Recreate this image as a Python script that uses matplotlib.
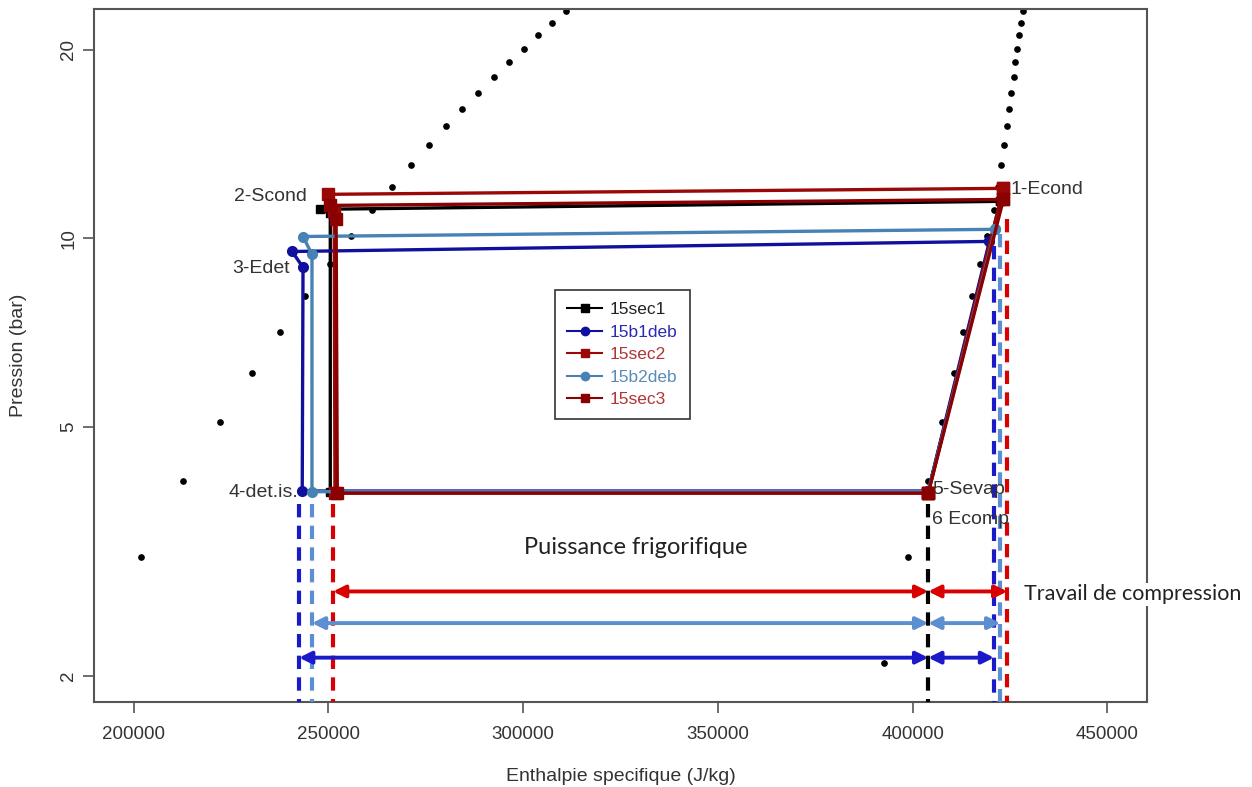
import matplotlib.pyplot as plt
from matplotlib.lines import Line2D
from matplotlib.ticker import NullLocator

# courbe de saturation : pression (bar), enthalpie liquide / vapeur (J/kg)
p_sat = [2.1, 3.1, 4.1, 5.1, 6.1, 7.1, 8.1, 9.1, 10.1, 11.1, 12.1, 13.1, 14.1, 15.1,
         16.1, 17.1, 18.1, 19.1, 20.1, 21.1, 22.1, 23.1]
h_liq = [188500, 201900, 212700, 222200, 230400, 237600, 244000, 250500, 255900, 261200,
         266400, 271300, 275900, 280300, 284400, 288500, 292600, 296400, 300300, 303900,
         307500, 311100]
h_vap = [392700, 398900, 404000, 407600, 410700, 413000, 415300, 417400, 419200, 421000,
         422000, 422800, 423500, 424300, 424800, 425300, 425900, 426400, 426900, 427400,
         427900, 428400]

# cycles : points 1-Econd, 2-Scond, 3-Edet, 4-det.is., 5-Sevap, 6 Ecomp
names = ["15sec1", "15b1deb", "15sec2", "15b2deb", "15sec3"]
h_sec1 = [422500, 247900, 250500, 250500, 404000, 404000]
p_sec1 = [11.46, 11.13, 10.96, 3.94, 3.94, 3.94]
h_b1deb = [419700, 240700, 243500, 243300, 404000, 404000]
p_b1deb = [9.89, 9.53, 8.99, 3.95, 3.95, 3.95]
h_sec2 = [423300, 250000, 251500, 251700, 404000, 404000]
p_sec2 = [12.02, 11.76, 11.04, 3.92, 3.92, 3.92]
h_b2deb = [421200, 243500, 245800, 245800, 404000, 404000]
p_b2deb = [10.34, 10.07, 9.43, 3.94, 3.94, 3.94]
h_sec3 = [423300, 250500, 252000, 252300, 404000, 404000]
p_sec3 = [11.54, 11.29, 10.72, 3.92, 3.92, 3.92]

# annotations : enthalpies entree detendeur / sortie evaporateur / sortie compresseur
h_det = [242500, 245800, 251200]
h_evap = 404000
h_comp = [420900, 422500, 424300]
p_comp_top = [9.71, 10.18, 10.72]
p_arrows = [2.14, 2.43, 2.73]
annot_colors = ["#1a1ac8", "#5b8fd2", "#d80000"]

plt.rcParams['font.family'] = ['Liberation Sans', 'DejaVu Sans']

fig = plt.figure(figsize=(12.52, 7.87), dpi=100)
ax = fig.add_axes([0.0751, 0.108, 0.841, 0.8806])
ax.set_yscale('log')

ax.plot(h_liq, p_sat, 'o', color='black', ms=3.8, zorder=1)
ax.plot(h_vap, p_sat, 'o', color='black', ms=3.8, zorder=1)

cycles = [(h_sec1, p_sec1), (h_b1deb, p_b1deb), (h_sec2, p_sec2), (h_b2deb, p_b2deb), (h_sec3, p_sec3)]
line_colors = ["black", "#10109c", "#9a0808", "#4682b4", "#8b0000"]
text_colors = ["#222222", "#2a2ab4", "#b03535", "#5a8ab8", "#b03535"]
markers = ["s", "o", "s", "o", "s"]
msizes = [6, 7, 9, 7, 9]

handles = []
for (h, p), col, mk, ms, name in zip(cycles, line_colors, markers, msizes, names):
    ax.plot(h + h[:1], p + p[:1], color=col, lw=2.4, marker=mk, ms=ms, zorder=2)
    handles.append(Line2D([], [], color=col, lw=1.5, marker=mk, ms=6, label=name))

# pointilles verticaux
for h, col in zip(h_det, annot_colors):
    ax.plot([h, h], [3.77, 1.818], color=col, lw=3, ls=(0, (3.2, 2)), zorder=3)
for h, ptop, col in zip(h_comp, p_comp_top, annot_colors):
    ax.plot([h, h], [ptop, 1.818], color=col, lw=3, ls=(0, (3.2, 2)), zorder=3)
ax.plot([h_evap, h_evap], [3.77, 1.818], color='black', lw=3, ls=(0, (3.2, 2)), zorder=3)

# fleches
for h0, h1, p, col in zip(h_det, h_comp, p_arrows, annot_colors):
    for a, b in [(h0, h_evap), (h_evap, h1)]:
        ax.annotate("", xy=(b, p), xytext=(a, p),
                    arrowprops=dict(arrowstyle='<|-|>', color=col, lw=2.8,
                                    mutation_scale=18, shrinkA=0, shrinkB=0), zorder=4)

lab = dict(fontsize=14, color='#333333')
ax.text(244500, 11.67, "2-Scond", ha='right', va='center', **lab)
ax.text(240200, 8.95, "3-Edet", ha='right', va='center', **lab)
ax.text(242300, 3.93, "4-det.is.", ha='right', va='center', **lab)
ax.text(425100, 11.97, "1-Econd", ha='left', va='center', **lab)
ax.text(405000, 3.97, "5-Sevap", ha='left', va='center', **lab)
ax.text(405000, 3.56, "6 Ecomp", ha='left', va='center', **lab)

ax.text(329000, 3.21, "Puissance frigorifique", ha='center', va='center',
        fontsize=17, family='Lato', color='#222222')
ax.text(428700, 2.70, "Travail de compression", ha='left', va='center',
        fontsize=15.5, family='Lato', color='#222222', clip_on=False,
        bbox=dict(facecolor='white', edgecolor='none', pad=1), zorder=6)

ax.set_xlim(189850, 460150)
ax.set_ylim(1.818, 23.25)
ax.set_xticks([200000, 250000, 300000, 350000, 400000, 450000])
ax.set_xticklabels(["200000", "250000", "300000", "350000", "400000", "450000"])
ax.set_yticks([2, 5, 10, 20])
ax.set_yticklabels(["2", "5", "10", "20"], rotation=90, va='center')
ax.yaxis.set_minor_locator(NullLocator())
ax.tick_params(length=8, width=1.2, color='#555555', labelsize=13.5, labelcolor='#333333')
ax.tick_params(axis='x', pad=9)
ax.tick_params(axis='y', pad=4)
for s in ax.spines.values():
    s.set_color('#555555')
    s.set_linewidth(1.5)

ax.set_xlabel("Enthalpie specifique (J/kg)", fontsize=14, color='#333333', labelpad=18)
ax.set_ylabel("Pression (bar)", fontsize=14, color='#333333', labelpad=24)

leg = ax.legend(handles=handles, loc='upper left', bbox_to_anchor=(0.4378, 0.5945),
                fontsize=12.5, frameon=True, fancybox=False, framealpha=1, edgecolor='#333333',
                handlelength=2.0, handletextpad=0.45, labelspacing=0.42, borderpad=0.7,
                borderaxespad=0)
leg.get_frame().set_linewidth(1.2)
for t, c in zip(leg.get_texts(), text_colors):
    t.set_color(c)

fig.savefig("out.png", dpi=100)
